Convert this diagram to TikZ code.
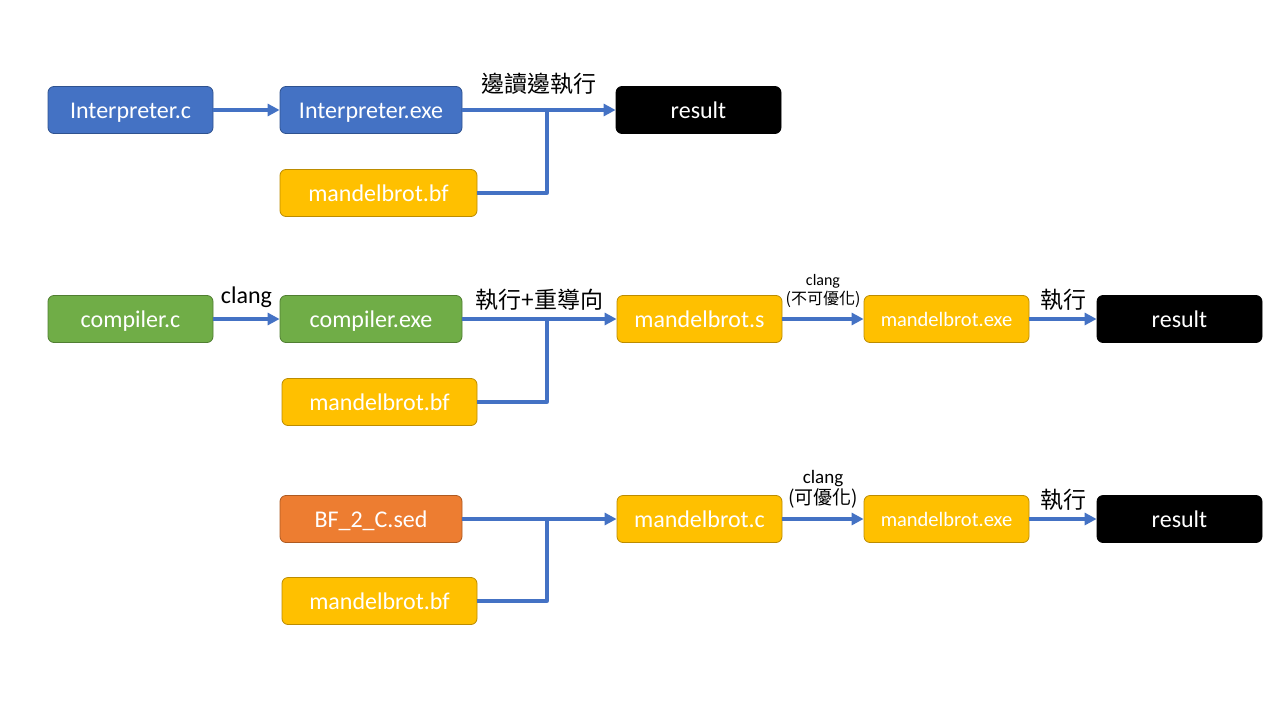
\documentclass[tikz,border=0pt]{standalone}
\usepackage{fontspec}
\setmainfont{Carlito}
\newfontfamily\cjk{Noto Sans CJK TC}
\usetikzlibrary{arrows.meta}
\definecolor{bluebox}{HTML}{4472C4}
\definecolor{blueedge}{HTML}{2F528F}
\definecolor{greenbox}{HTML}{70AD47}
\definecolor{greenedge}{HTML}{507E32}
\definecolor{orangebox}{HTML}{ED7D31}
\definecolor{orangeedge}{HTML}{AE5A21}
\definecolor{goldbox}{HTML}{FFC000}
\definecolor{goldedge}{HTML}{BC8C00}
\begin{document}
\begin{tikzpicture}[x=1pt, y=-1pt, line join=round, >={Triangle[length=12pt,width=12pt]},
		box/.style={rounded corners=6pt, minimum height=47pt, text=white, font=\fontsize{24}{28}\selectfont, line width=0.8pt, inner sep=0pt, text height=16pt, text depth=0pt},
		bluenode/.style={box, fill=bluebox, draw=blueedge},
		greennode/.style={box, fill=greenbox, draw=greenedge},
		orangenode/.style={box, fill=orangebox, draw=orangeedge},
		goldnode/.style={box, fill=goldbox, draw=goldedge},
		resnode/.style={box, fill=black, draw=black, minimum width=165pt},
		smallnode/.style={goldnode, minimum width=165pt, font=\fontsize{20.5}{24}\selectfont, text height=14pt},
		link/.style={->, draw=bluebox, line width=3.3pt},
		wire/.style={draw=bluebox, line width=3.3pt},
		lbl/.style={font=\cjk\fontsize{23}{26}\selectfont},
		tiny/.style={font=\fontsize{16}{19}\selectfont, align=center}]
	\useasboundingbox (0,0) rectangle (1280,720);
	% row 1
	\node[bluenode, minimum width=165pt] (ic) at (130.5,110) {Interpreter.c};
	\node[bluenode, minimum width=182pt] (ie) at (371,110) {Interpreter.exe};
	\node[resnode] (r1) at (698.5,110) {result};
	\node[goldnode, minimum width=197pt] (bf1) at (378.5,193) {mandelbrot.bf};
	\coordinate (j1) at (547,110);
	\draw[link] (ic) -- (ie);
	\draw[link] (ie) -- (r1) node[lbl, pos=0.5, above=11pt] (l1) {邊讀邊執行};
	\draw[wire] (bf1) -| (j1);
	% row 2
	\node[greennode, minimum width=165pt] (cc) at (130.5,319) {compiler.c};
	\node[greennode, minimum width=182pt] (ce) at (371,319) {compiler.exe};
	\node[goldnode, minimum width=165pt] (ms) at (699.5,319) {mandelbrot.s};
	\node[smallnode] (me2) at (946.5,319) {mandelbrot.exe};
	\node[resnode] (r2) at (1179.5,319) {result};
	\node[goldnode, minimum width=195pt] (bf2) at (379.5,402) {mandelbrot.bf};
	\coordinate (j2) at (547,319);
	\draw[link] (cc) -- (ce) node[pos=0.5, above=6pt, font=\fontsize{24}{28}\selectfont] (l2) {clang};
	\draw[link] (ce) -- (ms) node[lbl, pos=0.5, above=4pt] (l3) {執行+重導向};
	\draw[wire] (bf2) -| (j2);
	\draw[link] (ms) -- (me2) node[tiny, pos=0.5, above=6pt] (l4) {clang\\{\cjk\fontsize{16}{19}\selectfont (不可優化)}};
	\draw[link] (me2) -- (r2) node[lbl, pos=0.5, above=4pt] (l5) {執行};
	% row 3
	\node[orangenode, minimum width=182pt] (sed) at (371,519) {BF\_2\_C.sed};
	\node[goldnode, minimum width=165pt] (mc) at (699.5,519) {mandelbrot.c};
	\node[smallnode] (me3) at (946.5,519) {mandelbrot.exe};
	\node[resnode] (r3) at (1179.5,519) {result};
	\node[goldnode, minimum width=195pt] (bf3) at (379.5,601) {mandelbrot.bf};
	\coordinate (j3) at (547,519);
	\draw[link] (sed) -- (mc);
	\draw[wire] (bf3) -| (j3);
	\draw[link] (mc) -- (me3) node[pos=0.5, above=6pt, align=center, font=\fontsize{19}{21}\selectfont] (l6) {clang\\{\cjk\fontsize{19}{21}\selectfont (可優化)}};
	\draw[link] (me3) -- (r3) node[lbl, pos=0.5, above=4pt] (l7) {執行};
\end{tikzpicture}
\end{document}
